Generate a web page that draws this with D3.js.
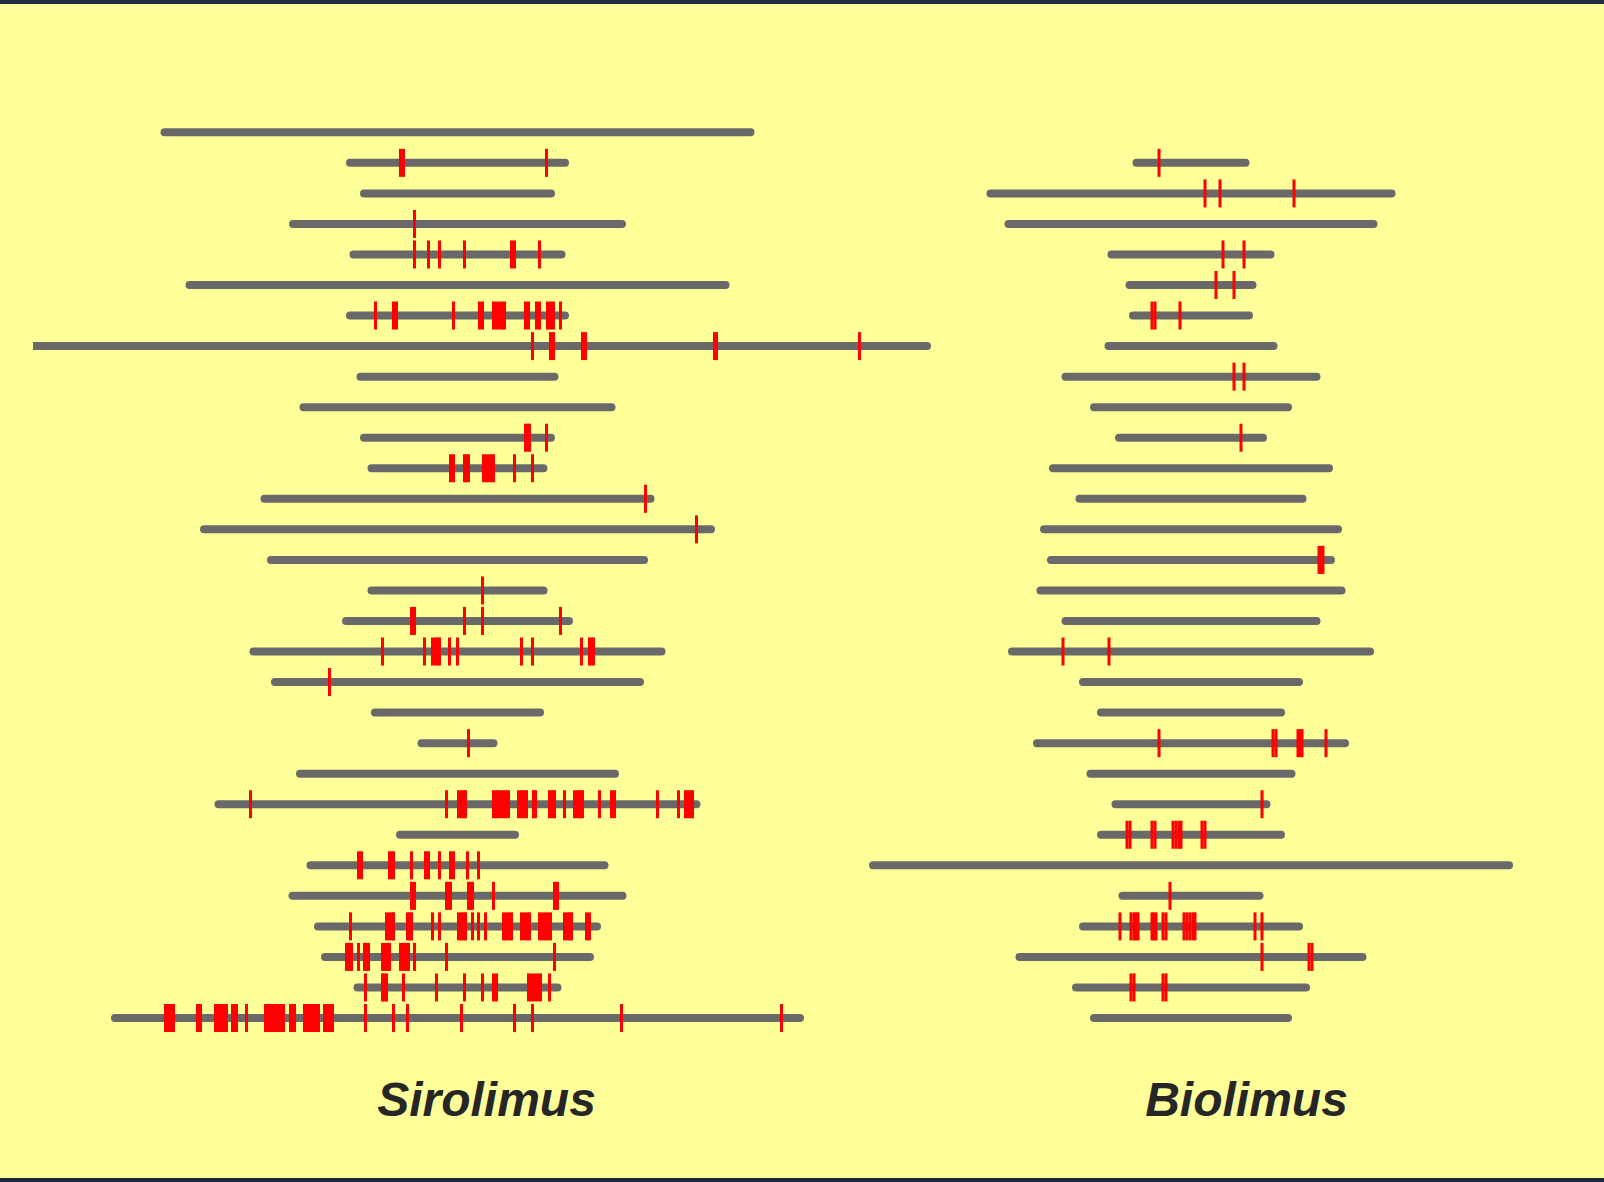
<!DOCTYPE html>
<html>
<head>
<meta charset="utf-8">
<script src="https://cdn.jsdelivr.net/npm/d3@7"></script>
<style>
  html, body { margin: 0; padding: 0; background: #FFFF99; }
  svg { display: block; }
</style>
</head>
<body>
<script>
// Sequence lengths (centered bars) and mutation positions (offset from the bar centre), one entry per row.
const rowCount = 30;

const sirolimusLengths = [594, 223, 195, 337, 216, 544, 223, 947, 202, 316,
                          195, 180, 394, 515, 381, 180, 231, 416, 373, 173,
                          80, 323, 486, 123, 302, 338, 287, 273, 208, 693];

const sirolimusMutations = [
  [],
  [-57, -54, 89],
  [],
  [-43],
  [-43, -29, -18, 7, 54, 57, 82],
  [],
  [-82, -64, -61, -4, 22, 25, 36, 39, 42, 45, 47, 68, 71, 79, 82, 90, 93, 96, 103],
  [75, 93, 96, 125, 128, 257, 259, 402],
  [],
  [],
  [68, 70, 72, 89],
  [-7, -4, 7, 9, 11, 26, 29, 32, 34, 36, 57, 75],
  [188],
  [239],
  [],
  [25],
  [-46, -43, 7, 25, 103],
  [-75, -33, -25, -22, -20, -18, -8, 0, 64, 75, 124, 132, 134, 136],
  [-128],
  [],
  [11],
  [],
  [-207, -11, 1, 4, 6, 8, 36, 39, 42, 45, 48, 51, 61, 64, 67, 69, 76, 78, 92, 95, 97, 107,
   117, 120, 123, 125, 142, 154, 157, 200, 221, 228, 231, 234, 235],
  [],
  [-99, -96, -68, -66, -64, -46, -32, -29, -18, -7, -4, 10, 21],
  [-46, -43, -11, -9, -7, 11, 13, 15, 36, 97, 100],
  [-107, -71, -68, -65, -64, -50, -48, -46, -25, -18, 1, 4, 6, 8, 15, 21, 28, 46, 49, 52, 54,
   64, 67, 70, 72, 82, 85, 88, 91, 93, 107, 110, 112, 114, 129, 132],
  [-111, -108, -106, -99, -93, -91, -89, -75, -72, -70, -68, -57, -54, -51, -49, -43, -11, 97],
  [-92, -75, -73, -71, -54, -21, 7, 25, 36, 39, 71, 74, 77, 80, 83, 92],
  [-292, -289, -286, -284, -260, -257, -242, -239, -236, -233, -231, -225, -223, -221, -211,
   -192, -189, -186, -183, -180, -177, -174, -167, -165, -163, -153, -150, -147, -144, -141, -139,
   -133, -130, -127, -125, -92, -64, -50, 4, 57, 75, 164, 324]
];

// Biolimus rows start at row 1 (row 0 is empty).
const biolimusLengths = [null, 117, 409, 373, 167, 131, 124, 173, 259, 202,
                         152, 284, 231, 302, 288, 309, 259, 366, 224, 188,
                         316, 209, 159, 188, 644, 145, 224, 351, 238, 202];

const biolimusMutations = [
  [],
  [-32],
  [14, 29, 103],
  [],
  [32, 53],
  [25, 43],
  [-39, -36, -11],
  [],
  [43, 53],
  [],
  [50],
  [],
  [],
  [],
  [128, 130, 132],
  [],
  [],
  [-128, -82],
  [],
  [],
  [-32, 82, 85, 107, 109, 111, 135],
  [],
  [71],
  [-64, -61, -39, -36, -18, -15, -12, -10, 11, 14],
  [],
  [-21],
  [-71, -60, -57, -55, -53, -39, -37, -35, -28, -25, -7, -4, -1, 2, 4, 64, 71],
  [71, 118, 121],
  [-60, -57, -28, -25],
  []
];

const panelTitles = ["Sirolimus", "Biolimus"];

const W = 1604, H = 1182;
const barColor = "#696969";
const markColor = "#FF0000";
const barHeight = 8;
const markHeight = 28;
const markWidth = 3;

const svg = d3.select("body").append("svg")
  .attr("width", W).attr("height", H);

svg.append("rect").attr("width", W).attr("height", H).attr("fill", "#FFFF99");

// dark frame strips top and bottom
svg.append("rect").attr("x", 0).attr("y", 0).attr("width", W).attr("height", 4).attr("fill", "#1f2e44");
svg.append("rect").attr("x", 0).attr("y", 1178).attr("width", W).attr("height", 4).attr("fill", "#1c2a3f");

const y = d3.scalePoint().domain(d3.range(rowCount)).range([132.3, 1018]);

const defs = svg.append("defs");
defs.append("clipPath").attr("id", "left-clip")
  .append("rect").attr("x", 33).attr("y", 0).attr("width", 900).attr("height", H);

function drawPanel(centre, lengths, mutations, title, titleX, clipId) {
  const x = d3.scaleLinear().domain([-500, 500]).range([centre - 500, centre + 500]);
  const g = svg.append("g");
  if (clipId) g.attr("clip-path", `url(#${clipId})`);

  const rows = lengths.map((len, i) => ({ i, len, muts: mutations[i] }))
    .filter(d => d.len != null);

  g.selectAll("rect.bar").data(rows).join("rect")
    .attr("class", "bar")
    .attr("x", d => x(-d.len / 2))
    .attr("width", d => x(d.len / 2) - x(-d.len / 2))
    .attr("y", d => y(d.i) - barHeight / 2)
    .attr("height", barHeight)
    .attr("rx", barHeight / 2)
    .attr("fill", barColor);

  const marks = rows.flatMap(d => d.muts.map(m => ({ i: d.i, m })));
  g.selectAll("rect.mut").data(marks).join("rect")
    .attr("class", "mut")
    .attr("x", d => x(d.m) - markWidth / 2)
    .attr("width", markWidth)
    .attr("y", d => y(d.i) - markHeight / 2)
    .attr("height", markHeight)
    .attr("fill", markColor);

  svg.append("text")
    .attr("x", titleX)
    .attr("y", 1116)
    .attr("text-anchor", "middle")
    .attr("font-family", "'Liberation Sans', Arial, sans-serif")
    .attr("font-weight", "bold")
    .attr("font-style", "italic")
    .attr("font-size", 48)
    .attr("fill", "#262626")
    .text(title);
}

drawPanel(457.5, sirolimusLengths, sirolimusMutations, panelTitles[0], 486.5, "left-clip");
drawPanel(1191, biolimusLengths, biolimusMutations, panelTitles[1], 1246.5, null);
</script>
</body>
</html>
